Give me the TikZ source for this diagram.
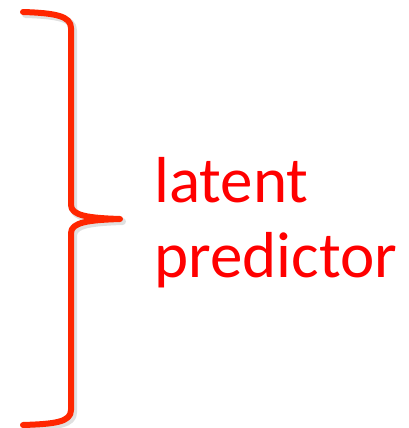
\documentclass[tikz,border=0pt]{standalone}
\usepackage{fontspec}
\setmainfont{Carlito}
\definecolor{bracered}{RGB}{255,38,0}
\begin{document}
\begin{tikzpicture}[x=1pt, y=-1pt,
  brace/.style={line width=6pt, color=bracered, line cap=round, line join=round},
  braceshadow/.style={line width=7pt, color=black, opacity=0.12, line cap=round, line join=round},
  every node/.style={font=\fontsize{65}{75}\selectfont}]
  \useasboundingbox (0,0) rectangle (409,428);
  % shadow, then the brace itself
  \draw[braceshadow, shift={(2.5,2.5)}] (23,12) .. controls (55,13) and (71,16) .. (71,28) -- (71,205)
    .. controls (71,216) and (90,218) .. (120,219) .. controls (90,220) and (71,222) .. (71,233)
    -- (71,410) .. controls (71,422) and (55,424) .. (23,425);
  \draw[brace] (23,12) .. controls (55,13) and (71,16) .. (71,28) -- (71,205)
    .. controls (71,216) and (90,218) .. (120,219) coordinate (tip) .. controls (90,220) and (71,222) .. (71,233)
    -- (71,410) .. controls (71,422) and (55,424) .. (23,425);
  \node[anchor=base west, align=left, text=red, inner sep=0pt] (label) at (154,277) {latent\\predictor};
\end{tikzpicture}
\end{document}
